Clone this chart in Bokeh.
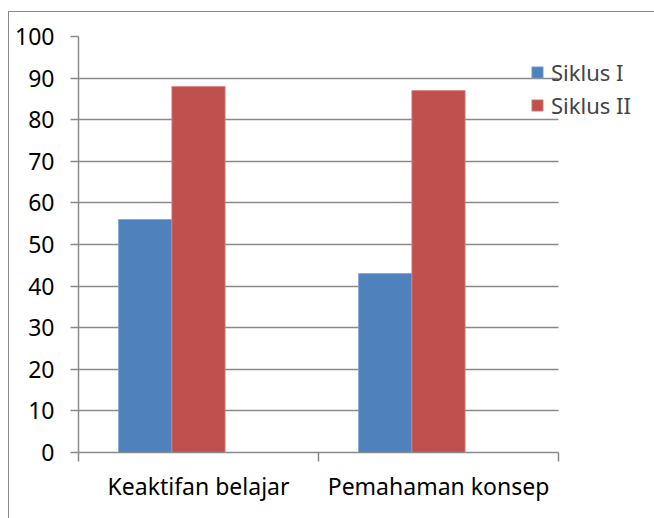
from bokeh.plotting import figure
from bokeh.models import (ColumnDataSource, FixedTicker, Legend, LegendItem,
                          BoxAnnotation, Range1d, InlineStyleSheet)
from bokeh.transform import dodge
from bokeh.embed import file_html
from bokeh.resources import INLINE

categories = ["Keaktifan belajar", "Pemahaman konsep"]
siklus1 = [56, 43]
siklus2 = [88, 87]
series_names = ["Siklus I", "Siklus II"]
y_ticks = [0, 10, 20, 30, 40, 50, 60, 70, 80, 90, 100]

BLUE = "#4F81BD"
RED = "#C0504D"
GRAY = "#8A8A8A"
FONT = "Noto Sans"

n = len(categories)
centers = [i + 0.5 for i in range(n)]
src = ColumnDataSource(dict(x=centers, s1=siklus1, s2=siklus2))

# frame spans to the right edge so the legend can overlap the plot area;
# category axis occupies 0..n (480 px), extra room 96 px on the right
x_end = n * 576 / 480

p = figure(width=654, height=518, output_backend="svg", toolbar_location=None,
           x_range=Range1d(0, x_end), y_range=Range1d(0, 100),
           min_border_left=78, min_border_right=0, min_border_top=36,
           min_border_bottom=66)
p.outline_line_color = None
p.background_fill_color = "white"
p.border_fill_color = "white"

bw = 0.222
r1 = p.vbar(x=dodge("x", -bw, range=p.x_range), top="s1", width=bw, source=src,
            fill_color=BLUE, line_color="#7FA2CF", line_width=0.8)
r2 = p.vbar(x="x", top="s2", width=bw, source=src,
            fill_color=RED, line_color="#D88583", line_width=0.8)

# x axis: labels at centers, ticks at category boundaries
xa = p.xaxis[0]
xa.bounds = (0, n)
xa.ticker = FixedTicker(ticks=centers, minor_ticks=list(range(n + 1)))
xa.major_label_overrides = {c: lab for c, lab in zip(centers, categories)}
xa.major_tick_out = 0
xa.major_tick_in = 0
xa.minor_tick_out = 9
xa.minor_tick_in = 0
xa.minor_tick_line_color = GRAY
xa.minor_tick_line_width = 1.5
xa.axis_line_color = GRAY
xa.axis_line_width = 1.5
xa.major_label_text_font = FONT
xa.major_label_text_font_size = "23px"
xa.major_label_text_color = "black"
xa.major_label_standoff = 8

ya = p.yaxis[0]
ya.ticker = FixedTicker(ticks=y_ticks)
ya.major_tick_out = 8
ya.major_tick_in = 0
ya.minor_tick_line_color = None
ya.major_tick_line_color = GRAY
ya.major_tick_line_width = 1.5
ya.axis_line_color = GRAY
ya.axis_line_width = 1.5
ya.major_label_text_font = FONT
ya.major_label_text_font_size = "23px"
ya.major_label_text_color = "black"
ya.major_label_standoff = 16

p.xgrid.grid_line_color = None
p.ygrid.grid_line_color = GRAY
p.ygrid.grid_line_width = 1.5
p.ygrid.ticker = FixedTicker(ticks=y_ticks)

# white mask: gridlines stop at the end of the category axis
mask = BoxAnnotation(left=n, right=x_end, bottom=0, top=100, fill_color="white",
                     fill_alpha=1, line_color=None, level="underlay")
p.add_layout(mask)

legend = Legend(items=[LegendItem(label=series_names[0], renderers=[r1]),
                       LegendItem(label=series_names[1], renderers=[r2])],
                location=(452, 332), padding=0, margin=0, spacing=3,
                glyph_width=14, glyph_height=14, label_standoff=7,
                label_text_font=FONT, label_text_font_size="22px",
                background_fill_alpha=0, border_line_color=None)
p.add_layout(legend, "center")

p.stylesheets = [InlineStyleSheet(css="""
:host { position: relative; }
:host::after {
  content: ""; position: absolute; left: 8px; top: 11px; right: 0; bottom: 0;
  border-left: 1.5px solid #8A8A8A; border-top: 1.5px solid #8A8A8A;
  pointer-events: none; z-index: 10;
}
""")]

open("out.html", "w").write(file_html(p, INLINE))
